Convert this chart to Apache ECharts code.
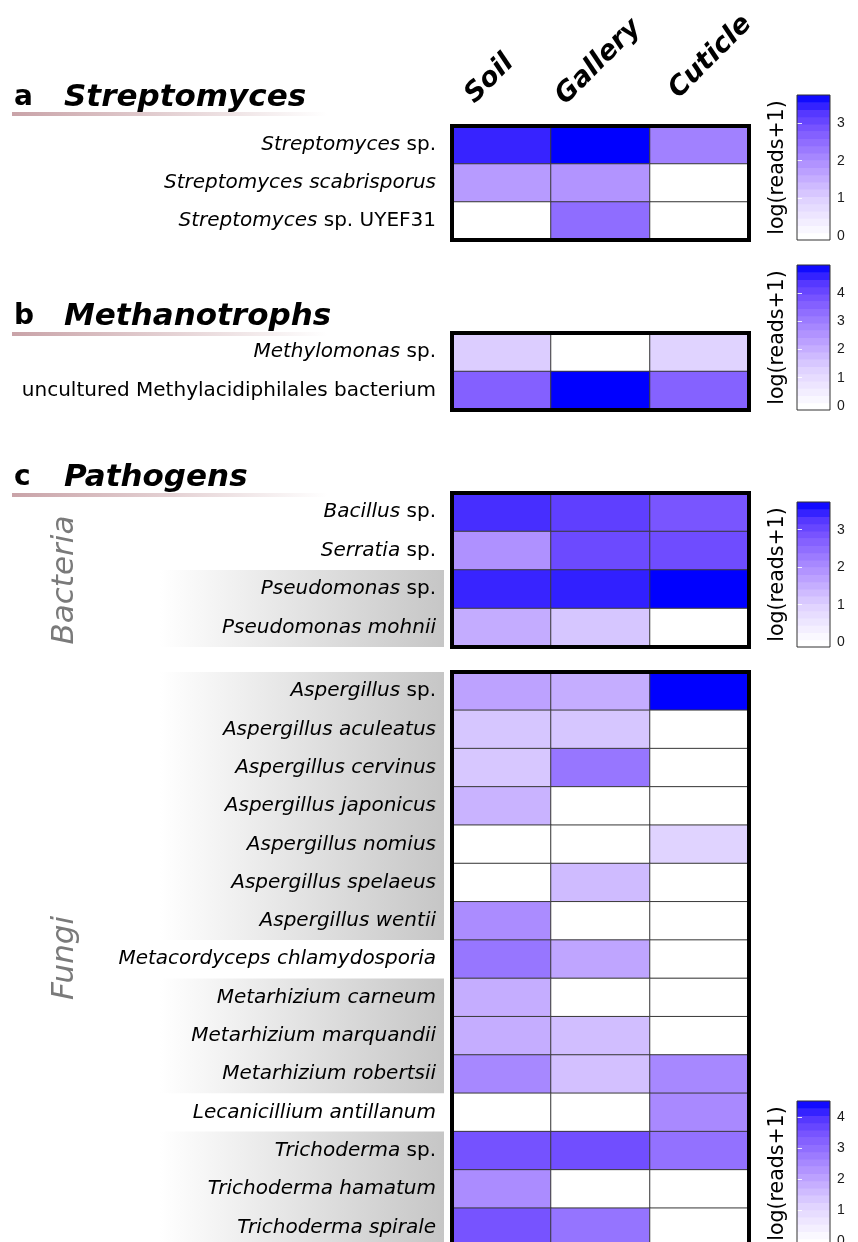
<!DOCTYPE html>
<html><head><meta charset="utf-8">
<script src="https://cdn.jsdelivr.net/npm/echarts@6/dist/echarts.min.js"></script>
<style>html,body{margin:0;padding:0;overflow:hidden;background:#fff}#c{width:858px;height:1262px}</style>
</head><body><div id="c"></div>
<script>
// ---------------- data ----------------
const columns = ['Soil', 'Gallery', 'Cuticle'];

const streptoRows = ['Streptomyces sp.', 'Streptomyces scabrisporus', 'Streptomyces sp. UYEF31'];
const streptoValues = [[3.44, 3.74, 2.2], [1.8, 1.9, 0], [0, 2.5, 0]];
const streptoTicks = [0, 1, 2, 3];

const methanoRows = ['Methylomonas sp.', 'uncultured Methylacidiphilales bacterium'];
const methanoValues = [[1.38, 0, 1.26], [3.57, 4.98, 3.55]];
const methanoTicks = [0, 1, 2, 3, 4];

const bacteriaRows = ['Bacillus sp.', 'Serratia sp.', 'Pseudomonas sp.', 'Pseudomonas mohnii'];
const bacteriaValues = [[3.35, 3.16, 2.85], [1.95, 3.0, 2.97], [3.43, 3.47, 3.74], [1.55, 1.16, 0]];
const bacteriaTicks = [0, 1, 2, 3];

const fungiRows = ['Aspergillus sp.', 'Aspergillus aculeatus', 'Aspergillus cervinus', 'Aspergillus japonicus',
  'Aspergillus nomius', 'Aspergillus spelaeus', 'Aspergillus wentii', 'Metacordyceps chlamydosporia',
  'Metarhizium carneum', 'Metarhizium marquandii', 'Metarhizium robertsii', 'Lecanicillium antillanum',
  'Trichoderma sp.', 'Trichoderma hamatum', 'Trichoderma spirale'];
const fungiValues = [[2.05, 1.85, 4.52], [1.4, 1.4, 0], [1.38, 2.86, 0], [1.75, 0, 0], [0, 0, 1.15],
  [0, 1.6, 0], [2.45, 0, 0], [2.86, 2.0, 0], [1.85, 0, 0], [1.85, 1.55, 0], [2.53, 1.5, 2.53],
  [0, 0, 2.5], [3.5, 3.56, 2.95], [2.45, 0, 0], [3.48, 2.9, 0]];
const fungiTicks = [0, 1, 2, 3, 4];

const sectionLetters = ['a', 'b', 'c'];
const sectionTitles = ['Streptomyces', 'Methanotrophs', 'Pathogens'];
const groupLabels = ['Bacteria', 'Fungi'];
const legendTitle = 'log(reads+1)';
const romanWords = ['sp.', 'UYEF31', 'uncultured', 'Methylacidiphilales', 'bacterium'];

// shaded label groups (row index ranges)
const bacteriaShade = [[2, 3]];
const fungiShade = [[0, 6], [8, 10], [12, 14]];

// ---------------- layout / style ----------------
const scaleColors = ['#ffffff', '#f0eaff', '#e1d4ff', '#cbb6ff', '#b496ff', '#9978ff', '#7d58ff', '#5537ff', '#0000ff'];
const FONT = 'DejaVu Sans';
const HM_LEFT = 452, HM_W = 297, CB_LEFT = 797, CB_W = 33, CB_H = 145;
const panels = [
  { rows: streptoRows, values: streptoValues, ticks: streptoTicks, top: 126, rowH: 38, cbTop: 95, cbMin: -0.1, max: 3.74, shade: [] },
  { rows: methanoRows, values: methanoValues, ticks: methanoTicks, top: 333, rowH: 38.5, cbTop: 265, cbMin: -0.14, max: 4.98, shade: [] },
  { rows: bacteriaRows, values: bacteriaValues, ticks: bacteriaTicks, top: 493, rowH: 38.5, cbTop: 502, cbMin: -0.13, max: 3.74, shade: bacteriaShade },
  { rows: fungiRows, values: fungiValues, ticks: fungiTicks, top: 672, rowH: 38.3, cbTop: 1101, cbMin: -0.16, max: 4.52, shade: fungiShade }
];
const titleLayout = [{ y: 98, line: 112 }, { y: 317, line: 332 }, { y: 478, line: 493 }];
const groupLayout = [{ x: 65, y: 580 }, { x: 65, y: 958 }];
const colLabelPos = [{ dx: -12, y: 79 }, { dx: -2, y: 62 }, { dx: 11, y: 57 }];
const N_STEPS = 20;

function labelFormatter(v) {
  if (v.startsWith('uncultured')) return '{n|' + v + '}';
  return v.split(' ').map(w => romanWords.includes(w) ? '{n|' + w + '}' : '{i|' + w + '}').join(' ');
}

const grid = [], xAxis = [], yAxis = [], series = [], visualMap = [], graphic = [];
const NP = panels.length;

panels.forEach((P, i) => {
  const h = P.rowH * P.rows.length;
  grid.push({ left: HM_LEFT, top: P.top, width: HM_W, height: h });
  xAxis.push({ type: 'category', gridIndex: i, data: columns, show: false });
  yAxis.push({
    type: 'category', gridIndex: i, data: P.rows, inverse: true,
    axisLine: { show: false }, axisTick: { show: false }, splitLine: { show: false },
    axisLabel: {
      margin: 16, fontFamily: FONT, fontSize: 20, color: '#000', formatter: labelFormatter,
      rich: {
        i: { fontFamily: FONT, fontSize: 20, fontStyle: 'italic', color: '#000' },
        n: { fontFamily: FONT, fontSize: 20, fontStyle: 'normal', color: '#000' }
      }
    }
  });
  const data = [];
  P.values.forEach((row, r) => row.forEach((v, c) => data.push([c, r, v])));
  series.push({
    type: 'heatmap', xAxisIndex: i, yAxisIndex: i, data,
    itemStyle: { borderColor: '#3a3a3a', borderWidth: 1 },
    emphasis: { disabled: true }, label: { show: false }, silent: true
  });
  graphic.push({ type: 'rect', z: 100, silent: true,
    shape: { x: HM_LEFT, y: P.top, width: HM_W, height: h },
    style: { fill: 'none', stroke: '#000', lineWidth: 4 } });
  P.shade.forEach(([r0, r1]) => {
    graphic.push({ type: 'rect', z: -10, silent: true,
      shape: { x: 160, y: P.top + r0 * P.rowH, width: 284, height: (r1 - r0 + 1) * P.rowH },
      style: { fill: new echarts.graphic.LinearGradient(0, 0, 1, 0, [
        { offset: 0, color: 'rgba(255,255,255,1)' }, { offset: 1, color: '#c6c6c6' }]) } });
  });
});

panels.forEach((P, i) => {
  const g = NP + i;
  grid.push({ left: CB_LEFT, top: P.cbTop, width: CB_W, height: CB_H });
  xAxis.push({ type: 'value', gridIndex: g, min: 0, max: 1, show: false });
  yAxis.push({
    type: 'value', gridIndex: g, min: P.cbMin, max: P.max, position: 'right', z: 10,
    axisLine: { show: false }, splitLine: { show: false },
    axisTick: { show: true, inside: true, length: 5, customValues: P.ticks, lineStyle: { color: 'rgba(255,255,255,0.85)', width: 1 } },
    axisLabel: { show: true, customValues: P.ticks, margin: 7, fontFamily: 'Liberation Sans', fontSize: 14, color: '#1a1a1a' }
  });
  const step = (P.max - P.cbMin) / N_STEPS;
  const bands = [];
  for (let k = 0; k < N_STEPS; k++) {
    const lo = P.cbMin + k * step, hi = lo + step;
    bands.push([0, lo, Math.min(P.max, Math.max(0, lo + step / 2)), hi]);
  }
  series.push({
    type: 'custom', xAxisIndex: g, yAxisIndex: g, data: bands, silent: true,
    encode: { x: 0, y: [1, 3] },
    renderItem(params, api) {
      const p0 = api.coord([0, api.value(1)]);
      const p1 = api.coord([1, api.value(3)]);
      return { type: 'rect', shape: { x: p0[0], y: p1[1], width: p1[0] - p0[0], height: p0[1] - p1[1] + 0.6 },
        style: { fill: api.visual('color') } };
    }
  });
  graphic.push({ type: 'rect', z: 100, silent: true,
    shape: { x: CB_LEFT, y: P.cbTop, width: CB_W, height: CB_H },
    style: { fill: 'none', stroke: '#333', lineWidth: 1 } });
  graphic.push({ type: 'text', z: 100, silent: true, x: 778, y: P.cbTop + CB_H / 2, rotation: Math.PI / 2,
    style: { text: legendTitle, fontFamily: FONT, fontSize: 20.5, fill: '#000', align: 'center', verticalAlign: 'middle' } });
  visualMap.push({ show: false, type: 'continuous', min: 0, max: P.max, dimension: 2,
    seriesIndex: [i, NP + i], inRange: { color: scaleColors } });
});

panels.forEach((P, i) => {
  yAxis.push({
    type: 'value', gridIndex: NP + i, min: P.cbMin, max: P.max, position: 'left', z: 10,
    axisLine: { show: false }, splitLine: { show: false }, axisLabel: { show: false },
    axisTick: { show: true, inside: true, length: 5, customValues: P.ticks, lineStyle: { color: 'rgba(255,255,255,0.85)', width: 1 } }
  });
});

sectionTitles.forEach((t, i) => {
  const L = titleLayout[i];
  graphic.push({ type: 'text', z: 100, silent: true, x: 14, y: L.y,
    style: { text: sectionLetters[i], fontFamily: FONT, fontWeight: 'bold', fontSize: 28, fill: '#000', verticalAlign: 'middle' } });
  graphic.push({ type: 'text', z: 100, silent: true, x: 64, y: L.y,
    style: { text: t, fontFamily: FONT, fontWeight: 'bold', fontStyle: 'italic', fontSize: 31, fill: '#000', verticalAlign: 'middle' } });
  graphic.push({ type: 'rect', z: 90, silent: true, shape: { x: 12, y: L.line, width: 315, height: 4 },
    style: { fill: new echarts.graphic.LinearGradient(0, 0, 1, 0, [
      { offset: 0, color: '#c9a3a8' }, { offset: 1, color: 'rgba(255,255,255,1)' }]) } });
});

groupLabels.forEach((t, i) => {
  const G = groupLayout[i];
  graphic.push({ type: 'text', z: 100, silent: true, x: G.x, y: G.y, rotation: Math.PI / 2,
    style: { text: t, fontFamily: "'DejaVu Sans ExtraLight', 'DejaVu Sans'", fontStyle: 'italic', fontWeight: 300, fontSize: 31, fill: '#7a7a7a', align: 'center', verticalAlign: 'middle' } });
});

const option = { animation: false, backgroundColor: '#fff', grid, xAxis, yAxis, series, visualMap, graphic };
const chart = echarts.init(document.getElementById('c'));
chart.setOption(option);

const extra = columns.map((c, j) => {
  const px = chart.convertToPixel({ xAxisIndex: 0 }, c);
  return { type: 'text', z: 100, silent: true, x: px + colLabelPos[j].dx, y: colLabelPos[j].y, rotation: Math.PI / 4,
    style: { text: c, fontFamily: FONT, fontWeight: 'bold', fontStyle: 'italic', fontSize: 27, fill: '#000', align: 'center', verticalAlign: 'middle' } };
});
chart.setOption({ graphic: graphic.concat(extra) });
</script>
</body></html>
